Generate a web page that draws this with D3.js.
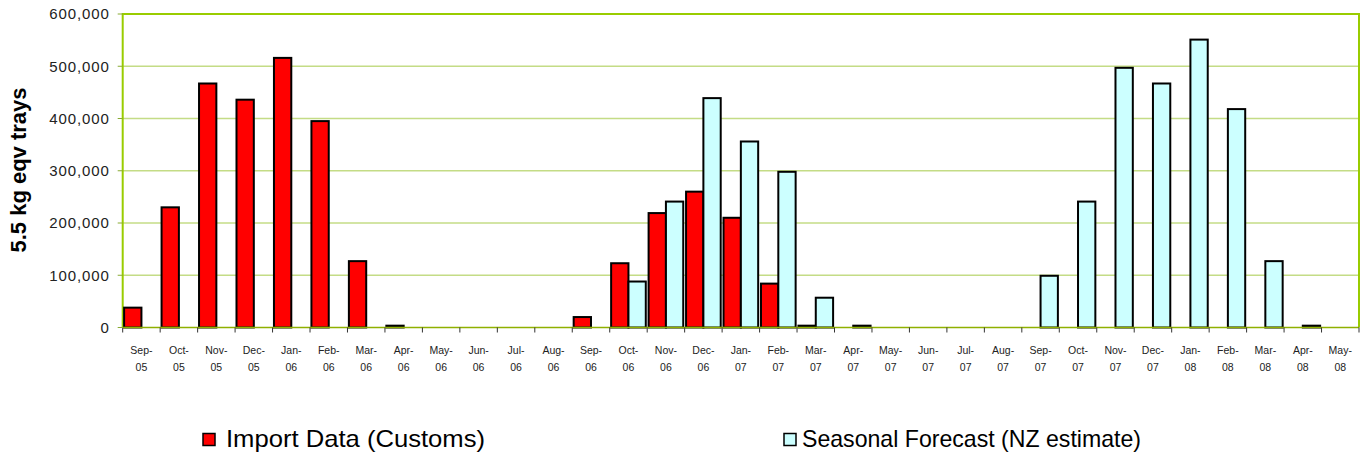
<!DOCTYPE html>
<html>
<head>
<meta charset="utf-8">
<script src="https://cdn.jsdelivr.net/npm/d3@7/dist/d3.min.js"></script>
<style>
  html, body { margin: 0; padding: 0; background: #ffffff; }
  svg { display: block; font-family: Arial, "Liberation Sans", sans-serif; }
</style>
</head>
<body>
<svg id="chart" width="1364" height="456"></svg>
<script>
const categories = ["Sep-05","Oct-05","Nov-05","Dec-05","Jan-06","Feb-06","Mar-06","Apr-06","May-06","Jun-06","Jul-06","Aug-06",
  "Sep-06","Oct-06","Nov-06","Dec-06","Jan-07","Feb-07","Mar-07","Apr-07","May-07","Jun-07","Jul-07","Aug-07",
  "Sep-07","Oct-07","Nov-07","Dec-07","Jan-08","Feb-08","Mar-08","Apr-08","May-08"];
const importData = [38000,230000,467000,436000,516000,395000,127000,3500,0,0,0,0,
  20000,123000,219000,260000,210000,84000,3500,0,0,0,0,0,
  null,null,null,null,null,null,null,null,null];
const forecastData = [null,null,null,null,null,null,null,null,null,null,null,null,
  null,88000,241000,439000,356000,298000,57000,3500,0,0,0,0,
  99000,241000,497000,467000,551000,418000,127000,3500,0];
const seriesNames = ["Import Data (Customs)","Seasonal Forecast (NZ estimate)"];
const seriesColors = ["#ff0000","#ccffff"];
const yTicks = [0,100000,200000,300000,400000,500000,600000];
const yTitle = "5.5 kg eqv trays";

const svg = d3.select("#chart");
const m = {left: 122.7, top: 14, right: 1359, bottom: 327.5};
const w = m.right - m.left, h = m.bottom - m.top;
const g = svg.append("g").attr("transform", `translate(${m.left},${m.top})`);

const x0 = d3.scaleBand().domain(categories).range([0, w]).paddingInner(0.075).paddingOuter(0.0375);
const x1 = d3.scaleBand().domain([0,1]).range([0, x0.bandwidth()]);
const y = d3.scaleLinear().domain([0, 600000]).range([h, 0]);

// gridlines
g.append("g").selectAll("line").data(yTicks.filter(d => d > 0 && d < 600000)).join("line")
  .attr("x1", 0).attr("x2", w).attr("y1", d => y(d)).attr("y2", d => y(d))
  .attr("stroke", "#c4dc86").attr("stroke-width", 1.5);

// plot border (top, right, left)
g.append("path").attr("d", `M0,${h}V0H${w}V${h}`).attr("fill", "none")
  .attr("stroke", "#99cc00").attr("stroke-width", 2);

// bars
const series = [importData, forecastData];
series.forEach((vals, si) => {
  g.append("g").selectAll("rect")
    .data(categories.map((c, i) => ({c, v: vals[i]})).filter(d => d.v))
    .join("rect")
    .attr("x", d => x0(d.c) + x1(si))
    .attr("width", x1.bandwidth())
    .attr("y", d => y(d.v))
    .attr("height", d => y(0) - y(d.v))
    .attr("fill", seriesColors[si])
    .attr("stroke", "#000").attr("stroke-width", 2);
});

// x axis
const step = x0.step();
const xAxisG = g.append("g").attr("transform", `translate(0,${h})`);
xAxisG.append("line").attr("x1", 0).attr("x2", w).attr("stroke", "#8fb000").attr("stroke-width", 1.5);
xAxisG.selectAll("line.tick").data(d3.range(categories.length + 1)).join("line")
  .attr("class", "tick")
  .attr("x1", i => i * step).attr("x2", i => i * step)
  .attr("y1", 0).attr("y2", 5).attr("stroke", "#333").attr("stroke-width", 1);
const labs = xAxisG.selectAll("text").data(categories).join("text")
  .attr("text-anchor", "middle").attr("font-size", 10.5).attr("fill", "#222")
  .attr("transform", d => `translate(${x0(d) + x0.bandwidth()/2},0)`);
labs.append("tspan").attr("x", 0).attr("y", 26.5).text(d => d.split("-")[0] + "-");
labs.append("tspan").attr("x", 0).attr("y", 43.5).text(d => d.split("-")[1]);

// y axis
const yAxisG = g.append("g");
yAxisG.selectAll("line").data(yTicks).join("line")
  .attr("x1", -5).attr("x2", 0).attr("y1", d => y(d)).attr("y2", d => y(d))
  .attr("stroke", "#88aa33").attr("stroke-width", 1);
yAxisG.selectAll("text").data(yTicks).join("text")
  .attr("x", -13).attr("y", d => y(d)).attr("dy", "0.36em")
  .attr("text-anchor", "end").attr("font-size", 15).attr("letter-spacing", 0.9).attr("fill", "#222")
  .text(d => d3.format(",")(d));

// y title
svg.append("text").attr("transform", "translate(26,170) rotate(-90)")
  .attr("text-anchor", "middle").attr("font-size", 22).attr("font-weight", "bold").attr("fill", "#000")
  .text(yTitle);

// legend
const legendPos = [{sx: 203, tx: 226, len: 259}, {sx: 784, tx: 802, len: 339}];
seriesNames.forEach((name, i) => {
  svg.append("rect").attr("x", legendPos[i].sx).attr("y", 433.5).attr("width", 12).attr("height", 12)
    .attr("fill", seriesColors[i]).attr("stroke", "#000").attr("stroke-width", 1.5);
  svg.append("text").attr("x", legendPos[i].tx).attr("y", 446.5).attr("font-size", 24).attr("fill", "#000")
    .attr("textLength", legendPos[i].len).attr("lengthAdjust", "spacingAndGlyphs")
    .text(name);
});
</script>
</body>
</html>
